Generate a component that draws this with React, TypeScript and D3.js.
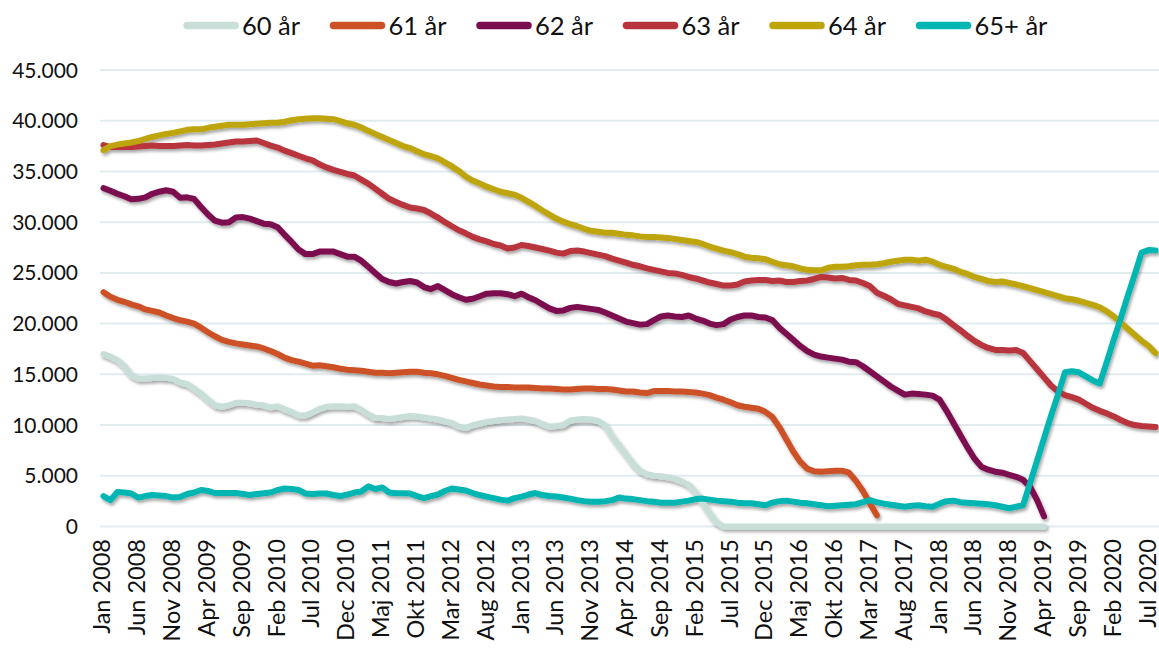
import React from "react";
import * as d3 from "d3";

const MONTH_NAMES = ["Jan", "Feb", "Mar", "Apr", "Maj", "Jun", "Jul", "Aug", "Sep", "Okt", "Nov", "Dec"];
const START_YEAR = 2008;
const N_MONTHS = 152;
const categories = Array.from({ length: N_MONTHS }, (_, i) => `${MONTH_NAMES[i % 12]} ${START_YEAR + Math.floor(i / 12)}`);
const TICK_STEP = 5;
const xTickIndexes = d3.range(0, N_MONTHS, TICK_STEP);
const yTicks = [0, 5000, 10000, 15000, 20000, 25000, 30000, 35000, 40000, 45000];

const seriesNames = ["60 år", "61 år", "62 år", "63 år", "64 år", "65+ år"];
const seriesColors = ["#c8ded8", "#cc5125", "#7c0c50", "#b8343d", "#bea50a", "#00b5b2"];

const age60 = [
  17000, 16750, 16400, 15800, 14900, 14600, 14600, 14650, 14700, 14650,
  14550, 14200, 14050, 13600, 13100, 12500, 11950, 11800, 11950, 12200,
  12200, 12150, 12000, 11950, 11750, 11850, 11550, 11300, 10950, 10950,
  11250, 11600, 11800, 11850, 11850, 11800, 11850, 11500, 11050, 10700,
  10700, 10600, 10700, 10800, 10900, 10850, 10750, 10650, 10550, 10350,
  10200, 9850, 9700, 10000, 10150, 10300, 10400, 10500, 10550, 10600,
  10650, 10550, 10400, 10100, 9850, 9900, 10000, 10450, 10550, 10600,
  10550, 10400, 10000, 8900, 8000, 7100, 6200, 5500, 5150, 5000,
  4950, 4850, 4700, 4450, 4100, 3400, 2300, 1300, 400, 0,
  0, 0, 0, 0, 0, 0, 0, 0, 0, 0,
  0, 0, 0, 0, 0, 0, 0, 0, 0, 0,
  0, 0, 0, 0, 0, 0, 0, 0, 0, 0,
  0, 0, 0, 0, 0, 0, 0, 0, 0, 0,
  0, 0, 0, 0, 0, 0,
];

const age61 = [
  23100, 22650, 22350, 22150, 21900, 21700, 21400, 21250, 21100, 20800,
  20550, 20350, 20200, 20000, 19600, 19150, 18750, 18400, 18200, 18050,
  17950, 17850, 17750, 17550, 17300, 17000, 16650, 16400, 16250, 16050,
  15850, 15900, 15800, 15700, 15550, 15450, 15400, 15350, 15250, 15150,
  15150, 15100, 15150, 15200, 15250, 15250, 15150, 15100, 15000, 14850,
  14650, 14450, 14300, 14150, 14000, 13900, 13800, 13750, 13750, 13700,
  13700, 13700, 13650, 13600, 13600, 13550, 13500, 13500, 13550, 13600,
  13600, 13550, 13550, 13500, 13400, 13300, 13300, 13200, 13150, 13350,
  13350, 13350, 13300, 13300, 13250, 13200, 13100, 12950, 12700, 12500,
  12250, 11950, 11800, 11700, 11600, 11300, 10800, 9800, 8600, 7400,
  6400, 5700, 5450, 5400, 5450, 5500, 5500, 5300, 4500, 3500,
  2300, 1100,
];

const age62 = [
  33350, 33100, 32800, 32550, 32250, 32300, 32450, 32800, 33000, 33150,
  33000, 32400, 32450, 32300, 31500, 30750, 30150, 29950, 30000, 30450,
  30500, 30350, 30100, 29850, 29800, 29500, 28750, 28050, 27300, 26850,
  26850, 27100, 27100, 27100, 26850, 26600, 26600, 26200, 25600, 25000,
  24400, 24100, 23950, 24100, 24200, 24050, 23600, 23400, 23700, 23300,
  22900, 22600, 22350, 22450, 22700, 22950, 23000, 23000, 22900, 22700,
  22950, 22600, 22300, 21900, 21500, 21250, 21300, 21550, 21650, 21550,
  21450, 21350, 21100, 20800, 20500, 20200, 20050, 19900, 19950, 20350,
  20700, 20800, 20700, 20650, 20800, 20500, 20300, 20000, 19850, 19950,
  20400, 20650, 20800, 20800, 20650, 20600, 20350, 19600, 19000, 18400,
  17800, 17300, 16950, 16750, 16650, 16550, 16450, 16250, 16200, 15800,
  15300, 14800, 14300, 13800, 13400, 13000, 13100, 13050, 13000, 12900,
  12500, 11400, 10200, 9000, 7800, 6700, 5900, 5600, 5400, 5300,
  5100, 4900, 4600, 3900, 2600, 1000,
];

const age63 = [
  37600, 37400, 37400, 37400, 37400, 37450, 37500, 37550, 37500, 37500,
  37500, 37550, 37600, 37550, 37550, 37600, 37650, 37750, 37850, 37950,
  37950, 38000, 38050, 37800, 37550, 37350, 37050, 36800, 36550, 36300,
  36100, 35700, 35400, 35150, 34950, 34750, 34600, 34200, 33800, 33300,
  32800, 32300, 32000, 31700, 31450, 31350, 31200, 30850, 30450, 30000,
  29600, 29200, 28900, 28550, 28300, 28100, 27850, 27700, 27400, 27500,
  27750, 27650, 27500, 27350, 27200, 27000, 26900, 27150, 27200, 27100,
  26950, 26800, 26650, 26400, 26200, 26000, 25800, 25650, 25450, 25300,
  25150, 25000, 24950, 24800, 24600, 24450, 24250, 24050, 23900, 23750,
  23750, 23850, 24150, 24250, 24300, 24300, 24200, 24250, 24100, 24100,
  24200, 24250, 24400, 24600, 24550, 24450, 24500, 24300, 24250, 24000,
  23700, 23050, 22750, 22400, 21950, 21800, 21650, 21500, 21200, 21000,
  20850, 20400, 19850, 19350, 18800, 18300, 17900, 17600, 17400, 17400,
  17350, 17400, 17100, 16300, 15500, 14700, 13900, 13300, 12950, 12750,
  12500, 12100, 11700, 11400, 11150, 10850, 10500, 10200, 10000, 9900,
  9850, 9800,
];

const age64 = [
  37100, 37500, 37650, 37750, 37850, 38000, 38200, 38400, 38550, 38700,
  38800, 38950, 39100, 39150, 39150, 39300, 39400, 39500, 39600, 39600,
  39600, 39650, 39700, 39750, 39800, 39800, 39900, 40050, 40150, 40200,
  40250, 40250, 40200, 40150, 39950, 39750, 39600, 39350, 39000, 38700,
  38400, 38100, 37800, 37500, 37300, 37000, 36700, 36500, 36300, 35900,
  35500, 35050, 34500, 34100, 33800, 33500, 33250, 33000, 32850, 32700,
  32400, 32000, 31600, 31150, 30750, 30350, 30050, 29800, 29600, 29350,
  29150, 29050, 28950, 28950, 28850, 28750, 28700, 28600, 28550, 28550,
  28500, 28450, 28350, 28250, 28150, 28050, 27850, 27600, 27400, 27200,
  27050, 26850, 26600, 26500, 26450, 26350, 26100, 25850, 25750, 25650,
  25450, 25300, 25250, 25250, 25500, 25600, 25600, 25650, 25750, 25800,
  25800, 25850, 25950, 26100, 26200, 26300, 26300, 26200, 26300, 26100,
  25800, 25600, 25400, 25100, 24900, 24600, 24400, 24200, 24100, 24150,
  24000, 23850, 23700, 23500, 23300, 23100, 22900, 22700, 22500, 22400,
  22250, 22050, 21850, 21600, 21200, 20700, 20100, 19500, 18900, 18300,
  17800, 17100,
];

const age65plus = [
  3000, 2600, 3400, 3350, 3250, 2850, 3000, 3100, 3050, 3000,
  2850, 2900, 3200, 3350, 3600, 3500, 3300, 3300, 3300, 3300,
  3200, 3100, 3200, 3270, 3350, 3600, 3750, 3700, 3600, 3250,
  3200, 3250, 3250, 3100, 3000, 3150, 3350, 3450, 3950, 3700,
  3850, 3350, 3270, 3270, 3250, 3000, 2800, 3000, 3150, 3500,
  3750, 3650, 3550, 3300, 3100, 2950, 2800, 2650, 2550, 2800,
  2950, 3150, 3300, 3100, 3000, 2950, 2850, 2750, 2600, 2500,
  2450, 2450, 2500, 2600, 2850, 2750, 2700, 2600, 2500, 2450,
  2350, 2350, 2350, 2450, 2550, 2700, 2750, 2650, 2550, 2500,
  2450, 2350, 2300, 2300, 2200, 2100, 2350, 2500, 2550, 2450,
  2350, 2300, 2200, 2100, 2000, 2050, 2100, 2150, 2200, 2400,
  2600, 2400, 2250, 2150, 2050, 1950, 2050, 2100, 2000, 1950,
  2250, 2500, 2550, 2400, 2350, 2300, 2250, 2200, 2100, 1950,
  1800, 1950, 2100, 4300, 6500, 8700, 10900, 13000, 15200, 15300,
  15200, 14800, 14400, 14100, 16200, 18400, 20500, 22700, 24800, 27000,
  27250, 27200,
];

const seriesValues = [age60, age61, age62, age63, age64, age65plus];

const FONT = "Lato, 'Open Sans', 'DejaVu Sans', sans-serif";

export default function App() {
  const W = 1159;
  const H = 651;
  const plotLeft = 100;
  const plotRight = 1159;
  const plotTop = 70;
  const plotBottom = 526.5;

  const x = d3
    .scalePoint<number>()
    .domain(d3.range(N_MONTHS))
    .range([plotLeft, plotRight])
    .padding(0.5);
  const y = d3.scaleLinear().domain([0, 45000]).range([plotBottom, plotTop]);

  const line = d3
    .line<number>()
    .x((_, i) => x(i) as number)
    .y((d) => y(d));

  const fmt = (v: number) => d3.format(",")(v).replace(/,/g, ".");

  const legendStart = 183;
  const legendStep = 146.5;

  return (
    <svg
      width={W}
      height={H}
      style={{ position: "absolute", left: 0, top: 0, background: "#fff" }}
      fontFamily={FONT}
    >
      <defs>
        <filter id="shadow" filterUnits="userSpaceOnUse" x={0} y={0} width={W} height={H}>
          <feDropShadow dx={1.5} dy={2.5} stdDeviation={1.6} floodColor="#000" floodOpacity={0.35} />
        </filter>
      </defs>
      <rect x={0} y={0} width={W} height={H} fill="#fff" />

      {/* gridlines */}
      {yTicks.map((t) => (
        <line key={t} x1={plotLeft} x2={plotRight} y1={y(t)} y2={y(t)} stroke="#e1ecef" strokeWidth={2} />
      ))}

      {/* y tick labels */}
      {yTicks.map((t) => (
        <text key={t} x={78} y={y(t)} dy="0.36em" textAnchor="end" fontSize={21} fill="#111">
          {fmt(t)}
        </text>
      ))}

      {/* x tick labels */}
      {xTickIndexes.map((i) => (
        <text
          key={i}
          transform={`translate(${(x(i) as number) + 7},${539}) rotate(-90)`}
          textAnchor="end"
          fontSize={23.5}
          fill="#111"
        >
          {categories[i]}
        </text>
      ))}

      {/* series */}
      <g filter="url(#shadow)">
        {seriesValues.map((vals, si) => (
          <path
            key={si}
            d={line(vals) || ""}
            fill="none"
            stroke={seriesColors[si]}
            strokeWidth={6}
            strokeLinejoin="round"
            strokeLinecap="round"
          />
        ))}
      </g>

      {/* legend */}
      {seriesNames.map((name, si) => {
        const lx = legendStart + legendStep * si;
        return (
          <g key={name}>
            <line
              x1={lx + 4}
              x2={lx + 52}
              y1={25.5}
              y2={25.5}
              stroke={seriesColors[si]}
              strokeWidth={7.5}
              strokeLinecap="round"
            />
            <text x={lx + 59} y={35} fontSize={25.5} fill="#111">
              {name}
            </text>
          </g>
        );
      })}
    </svg>
  );
}
